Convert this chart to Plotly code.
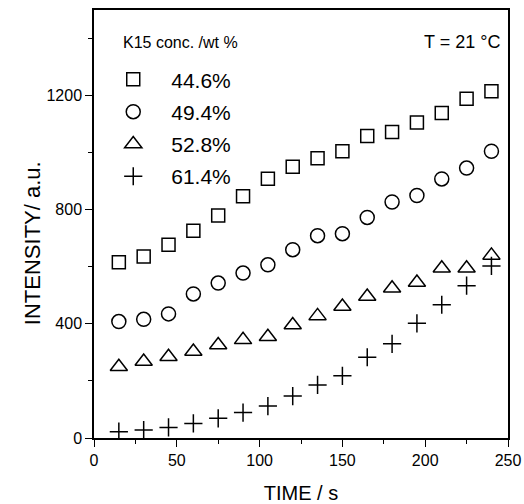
import plotly.graph_objects as go

time_s = [15, 30, 45, 60, 75, 90, 105, 120, 135, 150, 165, 180, 195, 210, 225, 240]
labels = ["44.6%", "49.4%", "52.8%", "61.4%"]
i_446 = [616, 636, 677, 726, 780, 847, 909, 951, 980, 1005, 1058, 1072, 1106, 1139, 1189, 1215]
i_494 = [408, 416, 435, 505, 543, 578, 607, 660, 709, 716, 773, 827, 850, 908, 946, 1005]
i_528 = [250, 268, 285, 303, 326, 344, 355, 396, 428, 461, 496, 525, 545, 595, 595, 640]
i_614 = [22, 28, 37, 51, 69, 89, 112, 147, 186, 218, 283, 330, 402, 467, 534, 603]

series = [i_446, i_494, i_528, i_614]
symbols = ["square-open", "circle-open", "triangle-up-open", "cross-thin-open"]
sizes = [13, 14, 15, 13]

FONT = "Liberation Sans, Arial, sans-serif"
fig = go.Figure()
for k, (lab, ys, sym, sz) in enumerate(zip(labels, series, symbols, sizes)):
    fig.add_trace(go.Scatter(
        x=time_s, y=ys, mode="markers", name=lab, legendgroup=f"g{k}",
        marker=dict(symbol=sym, size=sz, color="black",
                    line=dict(color="black", width=1.5)),
    ))

axis_common = dict(
    showline=True, linecolor="black", linewidth=1.5, mirror=True,
    ticks="outside", ticklen=7, tickwidth=1.3, tickcolor="black",
    showgrid=False, zeroline=False, automargin=False,
    tickfont=dict(family=FONT, size=16, color="black"),
)
fig.update_xaxes(range=[0, 250], tick0=0, dtick=50,
                 minor=dict(ticks="outside", ticklen=4, dtick=25, tickcolor="black", tickwidth=1.2),
                 title=dict(text="TIME / s", font=dict(family=FONT, size=20, color="black"), standoff=18),
                 **axis_common)
fig.update_yaxes(range=[0, 1500], tick0=0, dtick=400,
                 minor=dict(ticks="outside", ticklen=4, dtick=200, tickcolor="black", tickwidth=1.2),
                 **axis_common)

fig.add_annotation(x=-0.15, y=0.455, xref="paper", yref="paper", xanchor="center", yanchor="middle",
                   text="INTENSITY/ a.u.", showarrow=False, textangle=-90,
                   font=dict(family=FONT, size=22, color="black"))
fig.add_annotation(x=0.066, y=0.925, xref="paper", yref="paper", xanchor="left", yanchor="middle",
                   text="K15 conc. /wt %", showarrow=False,
                   font=dict(family=FONT, size=16, color="black"))
fig.add_annotation(x=0.985, y=0.925, xref="paper", yref="paper", xanchor="right", yanchor="middle",
                   text="T = 21 °C", showarrow=False,
                   font=dict(family=FONT, size=18, color="black"))

fig.update_layout(
    width=524, height=504,
    margin=dict(l=94, r=16, t=10, b=66),
    paper_bgcolor="white", plot_bgcolor="white",
    showlegend=True,
    legend=dict(x=0.003, y=0.885, xanchor="left", yanchor="top",
                font=dict(family=FONT, size=21, color="black"),
                bgcolor="rgba(0,0,0,0)", tracegroupgap=2, itemwidth=66),
    font=dict(family=FONT, color="black"),
)
fig.write_html("out.html")
